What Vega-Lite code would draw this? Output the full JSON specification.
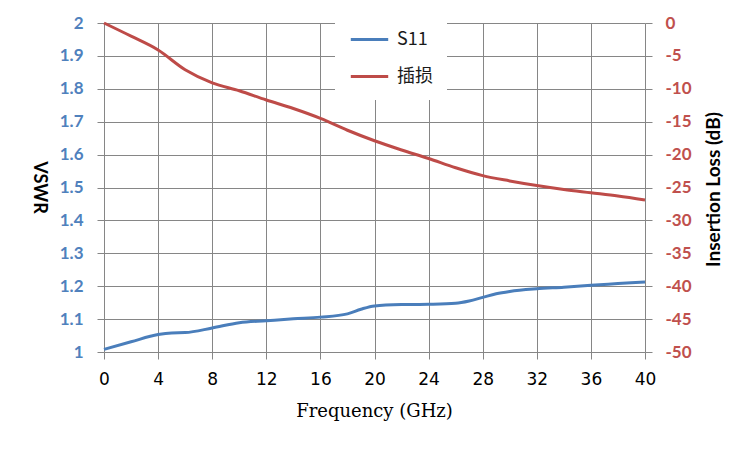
{
  "$schema": "https://vega.github.io/schema/vega-lite/v6.json",
  "autosize": {"type": "none"},
  "width": 541,
  "height": 329,
  "padding": {"left": 104, "top": 23, "right": 105, "bottom": 98},
  "background": "white",
  "datasets": {
    "s11": [
      {"f": 0, "v": 1.008, "series": "S11"},
      {"f": 2, "v": 1.031, "series": "S11"},
      {"f": 4, "v": 1.053, "series": "S11"},
      {"f": 5, "v": 1.058, "series": "S11"},
      {"f": 6, "v": 1.059, "series": "S11"},
      {"f": 8, "v": 1.073, "series": "S11"},
      {"f": 10, "v": 1.089, "series": "S11"},
      {"f": 12, "v": 1.095, "series": "S11"},
      {"f": 14, "v": 1.101, "series": "S11"},
      {"f": 16, "v": 1.106, "series": "S11"},
      {"f": 18, "v": 1.116, "series": "S11"},
      {"f": 19, "v": 1.13, "series": "S11"},
      {"f": 20, "v": 1.14, "series": "S11"},
      {"f": 22, "v": 1.144, "series": "S11"},
      {"f": 24, "v": 1.145, "series": "S11"},
      {"f": 26, "v": 1.148, "series": "S11"},
      {"f": 27, "v": 1.155, "series": "S11"},
      {"f": 28, "v": 1.166, "series": "S11"},
      {"f": 29, "v": 1.177, "series": "S11"},
      {"f": 30, "v": 1.184, "series": "S11"},
      {"f": 32, "v": 1.192, "series": "S11"},
      {"f": 34, "v": 1.197, "series": "S11"},
      {"f": 36, "v": 1.203, "series": "S11"},
      {"f": 38, "v": 1.208, "series": "S11"},
      {"f": 40, "v": 1.213, "series": "S11"}
    ],
    "il": [
      {"f": 0, "v": 0, "series": "插损"},
      {"f": 2, "v": -2, "series": "插损"},
      {"f": 4, "v": -4.1, "series": "插损"},
      {"f": 6, "v": -7.1, "series": "插损"},
      {"f": 8, "v": -9.1, "series": "插损"},
      {"f": 10, "v": -10.3, "series": "插损"},
      {"f": 12, "v": -11.7, "series": "插损"},
      {"f": 14, "v": -13.0, "series": "插损"},
      {"f": 16, "v": -14.5, "series": "插损"},
      {"f": 18, "v": -16.3, "series": "插损"},
      {"f": 20, "v": -17.9, "series": "插损"},
      {"f": 22, "v": -19.3, "series": "插损"},
      {"f": 24, "v": -20.6, "series": "插损"},
      {"f": 26, "v": -22.0, "series": "插损"},
      {"f": 28, "v": -23.2, "series": "插损"},
      {"f": 30, "v": -24.0, "series": "插损"},
      {"f": 32, "v": -24.7, "series": "插损"},
      {"f": 34, "v": -25.3, "series": "插损"},
      {"f": 36, "v": -25.8, "series": "插损"},
      {"f": 38, "v": -26.3, "series": "插损"},
      {"f": 40, "v": -26.9, "series": "插损"}
    ]
  },
  "encoding": {
    "x": {
      "field": "f",
      "type": "quantitative",
      "scale": {"domain": [0, 40], "nice": false},
      "axis": {
        "values": [0, 4, 8, 12, 16, 20, 24, 28, 32, 36, 40],
        "title": "Frequency (GHz)",
        "titleFont": "DejaVu Serif",
        "titleFontSize": 18,
        "titleFontWeight": "normal",
        "titleColor": "#000000",
        "titleX": 270,
        "titleY": 59,
        "titleBaseline": "middle",
        "titleAlign": "center",
        "labelFont": "DejaVu Sans",
        "labelFontSize": 17,
        "labelColor": "#000000",
        "labelPadding": 12,
        "labelFlush": false,
        "tickSize": 7,
        "tickColor": "#868686",
        "gridColor": "#868686",
        "gridOpacity": 1,
        "domain": false
      }
    },
    "color": {
      "field": "series",
      "type": "nominal",
      "scale": {"domain": ["S11", "插损"], "range": ["#4A7EBB", "#BE4B48"]},
      "legend": {
        "title": null,
        "orient": "none",
        "legendX": 231,
        "legendY": -18,
        "fillColor": "white",
        "padding": 14,
        "symbolType": "stroke",
        "symbolSize": 1400,
        "symbolStrokeWidth": 3,
        "rowPadding": 7,
        "labelOffset": 7,
        "labelFont": "Noto Sans CJK SC",
        "labelFontSize": 18,
        "labelColor": "#1a1a1a",
        "labelLimit": 200
      }
    }
  },
  "layer": [
    {
      "data": {"name": "s11"},
      "mark": {"type": "line", "interpolate": "monotone", "strokeWidth": 3},
      "encoding": {
        "y": {
          "field": "v",
          "type": "quantitative",
          "scale": {"domain": [1, 2], "nice": false},
          "axis": {
            "orient": "left",
            "values": [1, 1.1, 1.2, 1.3, 1.4, 1.5, 1.6, 1.7, 1.8, 1.9, 2],
            "labelExpr": "'' + datum.value",
            "title": "VSWR",
            "titleFont": "Lato",
            "titleFontSize": 18,
            "titleFontWeight": "bold",
            "titleColor": "#000000",
            "titleAngle": 90,
            "titleX": -66,
            "titleY": 164,
            "titleBaseline": "middle",
            "titleAlign": "center",
            "labelFont": "Lato",
            "labelFontSize": 17,
            "labelFontWeight": "bold",
            "labelColor": "#4F81BD",
            "labelPadding": 14,
            "labelFlush": false,
            "tickSize": 7,
            "tickColor": "#868686",
            "gridColor": "#868686",
            "gridOpacity": 1,
            "domain": false
          }
        }
      }
    },
    {
      "data": {"name": "il"},
      "mark": {"type": "line", "interpolate": "monotone", "strokeWidth": 3},
      "encoding": {
        "y": {
          "field": "v",
          "type": "quantitative",
          "scale": {"domain": [-50, 0], "nice": false},
          "axis": {
            "orient": "right",
            "values": [0, -5, -10, -15, -20, -25, -30, -35, -40, -45, -50],
            "labelExpr": "'' + datum.value",
            "title": "Insertion Loss (dB)",
            "titleFont": "Lato",
            "titleFontSize": 19,
            "titleFontWeight": "bold",
            "titleColor": "#000000",
            "titleAngle": 270,
            "titleX": 68,
            "titleY": 166,
            "titleBaseline": "middle",
            "titleAlign": "center",
            "labelFont": "Lato",
            "labelFontSize": 17,
            "labelFontWeight": "bold",
            "labelColor": "#C0504D",
            "labelPadding": 13,
            "labelFlush": false,
            "tickSize": 7,
            "tickColor": "#868686",
            "grid": false,
            "domain": false
          }
        }
      }
    }
  ],
  "resolve": {"scale": {"y": "independent"}},
  "config": {
    "view": {"stroke": null}
  }
}
